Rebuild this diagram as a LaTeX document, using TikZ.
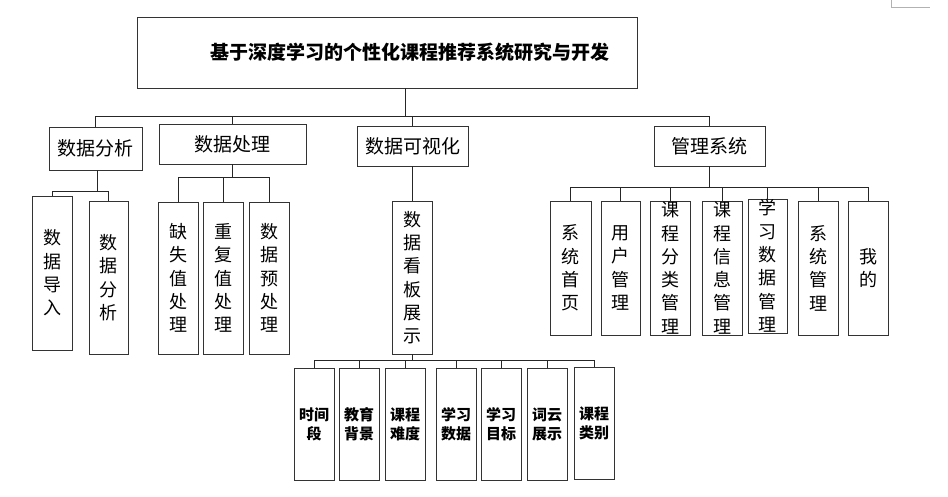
\documentclass[tikz,border=0pt]{standalone}
\usepackage{fontspec}
\setmainfont{Noto Sans CJK SC}
\begin{document}
\begin{tikzpicture}[x=1pt,y=-1pt,
  box/.style={draw=black!80, line width=0.9pt, inner sep=0pt, align=center},
  vbox/.style={box, minimum width=40pt, font=\fontsize{18}{23.3}\selectfont},
  sbox/.style={box, minimum width=40pt, minimum height=112pt, font=\bfseries\fontsize{15}{19}\selectfont},
  lbox/.style={box, minimum height=40pt, font=\fontsize{19}{22}\selectfont},
  link/.style={draw=black!85, line width=0.9pt}]
\useasboundingbox (0,0) rectangle (948,496);
\fill[white] (0,0) rectangle (948,496);
% corner mark
\draw[black!30, line width=0.8pt] (891,0) -- (891,7) -- (930,7);
% title
\node[box, minimum width=500pt, minimum height=71pt, font=\bfseries\fontsize{19}{22}\selectfont] (title) at (387,52.5) {\hspace*{46pt}基于深度学习的个性化课程推荐系统研究与开发};
% level 2
\node[lbox, minimum width=93pt, minimum height=43pt] (da) at (95.5,148.5) {数据分析};
\node[lbox, minimum width=147pt] (dp) at (232.5,144) {数据处理};
\node[lbox, minimum width=111pt] (dv) at (412.5,146) {数据可视化};
\node[lbox, minimum width=111pt] (gl) at (709.5,146) {管理系统};
\coordinate (t0) at (405,116);
\draw[link] (t0 |- title.south) -- (t0);
\draw[link] (da.north) -- (da.north |- t0) -- (gl.north |- t0) -- (gl.north);
\draw[link] (dp.north) -- (dp.north |- t0);
\draw[link] (dv.north) -- (dv.north |- t0);
% 数据分析 children
\node[vbox, minimum height=154pt] (a1) at (52,273) {数\\据\\导\\入};
\node[vbox, minimum width=39pt, minimum height=153pt] (a2) at (108.5,277.5) {数\\据\\分\\析};
\coordinate (ta) at (97,191);
\draw[link] (ta |- da.south) -- (ta);
\draw[link] (a1.north) -- (a1.north |- ta) -- (a2.north |- ta) -- (a2.north);
% 数据处理 children
\node[vbox, minimum height=152pt] (p1) at (178,278) {缺\\失\\值\\处\\理};
\node[vbox, minimum height=152pt] (p2) at (223,278) {重\\复\\值\\处\\理};
\node[vbox, minimum height=152pt] (p3) at (269,278) {数\\据\\预\\处\\理};
\coordinate (tp) at (232.5,177);
\draw[link] (dp.south) -- (dp.south |- tp);
\draw[link] (p1.north) -- (p1.north |- tp) -- (p3.north |- tp) -- (p3.north);
\draw[link] (p2.north) -- (p2.north |- tp);
% 数据可视化 child
\node[vbox, minimum height=153pt] (v1) at (412,277.5) {数\\据\\看\\板\\展\\示};
\draw[link] (v1.north |- dv.south) -- (v1.north);
% bottom row
\node[sbox] (s1) at (314,424) {时间\\段};
\node[sbox] (s2) at (359,424) {教育\\背景};
\node[sbox] (s3) at (405,424) {课程\\难度};
\node[sbox] (s4) at (456,424) {学习\\数据};
\node[sbox] (s5) at (501,424) {学习\\目标};
\node[sbox] (s6) at (547,424) {词云\\展示};
\node[sbox] (s7) at (594,423) {课程\\类别};
\coordinate (tv) at (412,360);
\draw[link] (v1.south) -- (tv);
\draw[link] (s1.north) -- (s1.north |- tv) -- (s7.north |- tv) -- (s7.north);
\foreach \n in {s2,s3,s4,s5,s6} \draw[link] (\n.north) -- (\n.north |- tv);
% 管理系统 children
\node[vbox, minimum width=41pt, minimum height=134pt] (m1) at (570.5,268) {系\\统\\首\\页};
\node[vbox, minimum width=39pt, minimum height=134pt] (m2) at (620.5,268) {用\\户\\管\\理};
\node[vbox, minimum height=134pt] (m3) at (670,268) {课\\程\\分\\类\\管\\理};
\node[vbox, minimum height=134pt] (m4) at (722,268) {课\\程\\信\\息\\管\\理};
\node[vbox, minimum width=39pt, minimum height=134pt] (m5) at (767.5,266) {学\\习\\数\\据\\管\\理};
\node[vbox, minimum height=134pt] (m6) at (818,268) {系\\统\\管\\理};
\node[vbox, minimum height=134pt] (m7) at (868,268) {我\\的};
\coordinate (tg) at (710,187);
\draw[link] (gl.south) -- (gl.south |- tg);
\draw[link] (m1.north) -- (m1.north |- tg) -- (m7.north |- tg) -- (m7.north);
\foreach \n in {m2,m3,m4,m5,m6} \draw[link] (\n.north) -- (\n.north |- tg);
\end{tikzpicture}
\end{document}
